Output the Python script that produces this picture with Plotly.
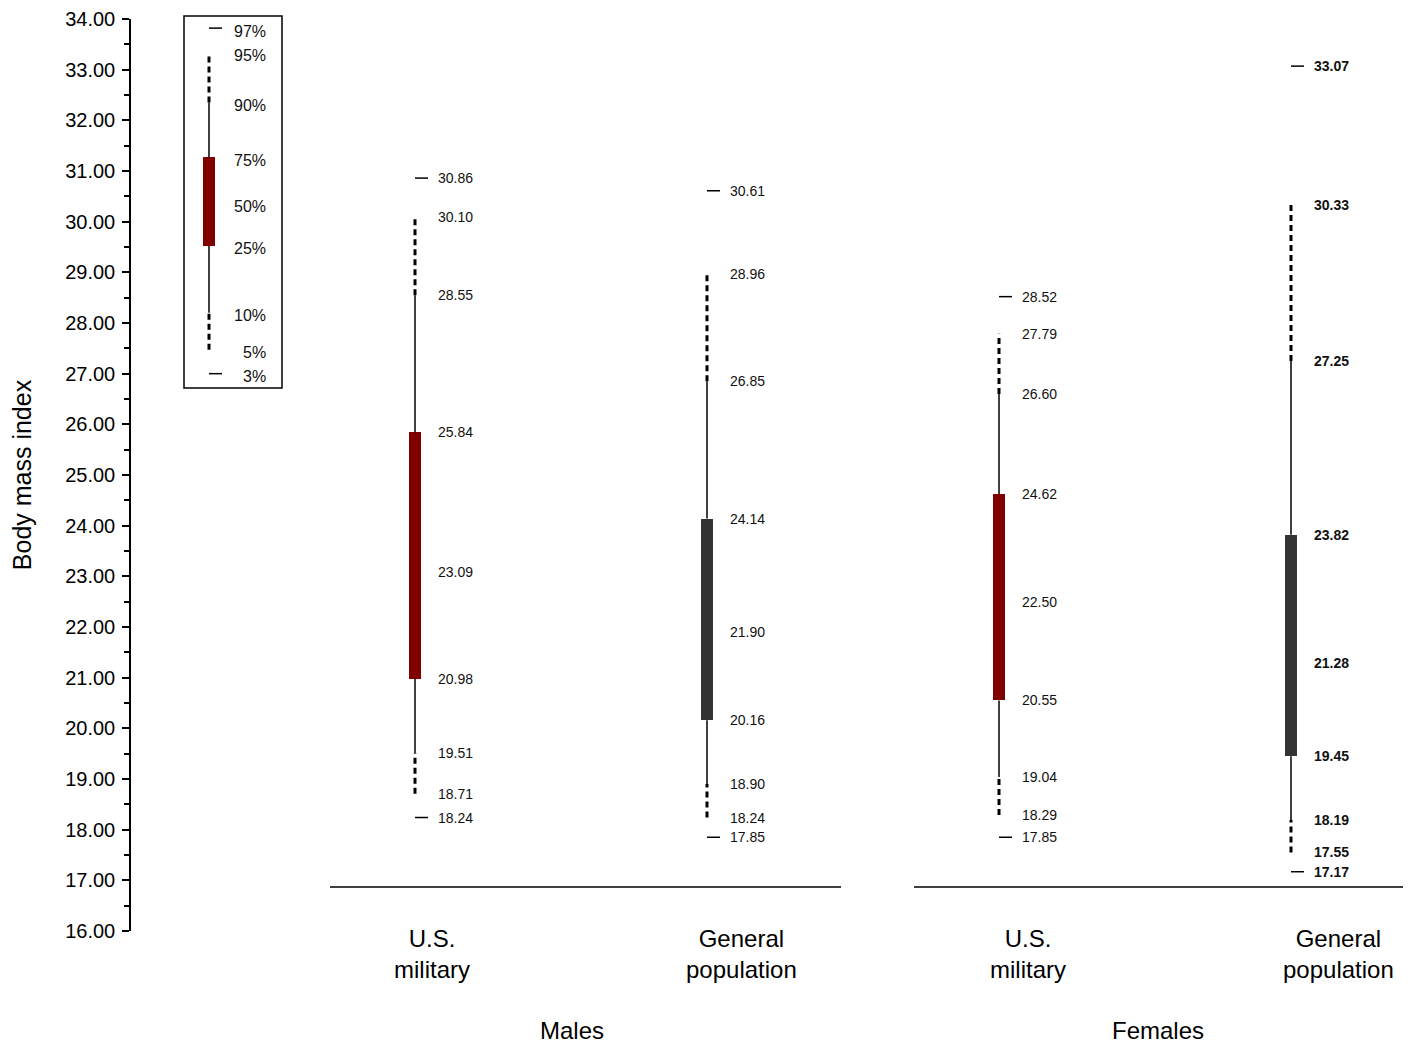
import plotly.graph_objects as go

# ---------------- data ----------------
groups = ["Males", "Males", "Females", "Females"]
categories = ["U.S.<br>military", "General<br>population", "U.S.<br>military", "General<br>population"]
percentiles = [3, 5, 10, 25, 50, 75, 90, 95, 97]
male_military = [18.24, 18.71, 19.51, 20.98, 23.09, 25.84, 28.55, 30.10, 30.86]
male_general = [17.85, 18.24, 18.90, 20.16, 21.90, 24.14, 26.85, 28.96, 30.61]
female_military = [17.85, 18.29, 19.04, 20.55, 22.50, 24.62, 26.60, 27.79, 28.52]
female_general = [17.17, 17.55, 18.19, 19.45, 21.28, 23.82, 27.25, 30.33, 33.07]
series = [male_military, male_general, female_military, female_general]
box_colors = ["#800000", "#333333", "#800000", "#333333"]
bold_labels = [False, False, False, True]

# legend key (illustrative percentile box)
legend_values = [27.00, 27.47, 28.20, 29.52, 30.35, 31.27, 32.35, 33.33, 33.82]
legend_labels = ["3%", "5%", "10%", "25%", "50%", "75%", "90%", "95%", "97%"]

y_ticks = list(range(16, 35))

# ---------------- layout helpers ----------------
px = 1 / 292.0            # one pixel in x data units
box_w = 12 * px
dash_len = 13 * px
label_off = 21 * px
fig = go.Figure()


def draw_box(xc, v, color, with_labels, bold):
    p3, p5, p10, p25, p50, p75, p90, p95, p97 = v
    fig.add_trace(go.Bar(x=[xc], y=[p75 - p25], base=[p25], width=[box_w],
                         marker=dict(color=color, line=dict(width=0)),
                         showlegend=False, hoverinfo="skip"))
    for a, b in [(p75, p90), (p10, p25)]:
        fig.add_trace(go.Scatter(x=[xc, xc], y=[a, b], mode="lines",
                                 line=dict(color="black", width=1.5),
                                 showlegend=False, hoverinfo="skip"))
    for a, b in [(p90, p95), (p5, p10)]:
        fig.add_trace(go.Scatter(x=[xc, xc], y=[a, b], mode="lines",
                                 line=dict(color="black", width=3, dash="6px,4px"),
                                 showlegend=False, hoverinfo="skip"))
    for a in [p3, p97]:
        fig.add_trace(go.Scatter(x=[xc, xc + dash_len], y=[a, a], mode="lines",
                                 line=dict(color="black", width=1.5),
                                 showlegend=False, hoverinfo="skip"))
    if with_labels:
        for val in v:
            txt = f"{val:.2f}"
            if bold:
                txt = f"<b>{txt}</b>"
            fig.add_annotation(x=xc + label_off, y=val, text=txt, showarrow=False,
                               xanchor="left", yanchor="middle",
                               font=dict(size=14, color="#111"))


for i, v in enumerate(series):
    draw_box(i, v, box_colors[i], True, bold_labels[i])

# legend key
lx = (209 - 415) * px
draw_box(lx, legend_values, "#800000", False, False)
for val, lab in zip(legend_values, legend_labels):
    fig.add_annotation(x=(268 - 415) * px, y=val, text=lab, showarrow=False,
                       xanchor="right", yanchor="middle", yshift=-3,
                       font=dict(size=16, color="#111"))
fig.add_shape(type="rect", xref="x", yref="paper",
              x0=(184 - 415) * px, x1=(282 - 415) * px,
              y0=(931 - 388) / 912, y1=(931 - 16) / 912,
              line=dict(color="black", width=1.5))

# baselines under groups
base_y = (931 - 887) / 912
fig.add_shape(type="line", xref="x", yref="paper", x0=(330 - 415) * px, x1=(841 - 415) * px,
              y0=base_y, y1=base_y, line=dict(color="black", width=1.5))
fig.add_shape(type="line", xref="x", yref="paper", x0=(914 - 415) * px, x1=(1405 - 415) * px,
              y0=base_y, y1=base_y, line=dict(color="black", width=1.5))

# category labels
cat_x = [(432 - 415) * px, (741 - 415) * px, (1028 - 415) * px, (1338 - 415) * px]
for cx, cat in zip(cat_x, categories):
    fig.add_annotation(x=cx, y=(931 - 953.5) / 912, xref="x", yref="paper", text=cat,
                       showarrow=False, xanchor="center", yanchor="middle",
                       font=dict(size=24, color="black"))
group_x = {"Males": (572 - 415) * px, "Females": (1158 - 415) * px}
for g, gx in group_x.items():
    fig.add_annotation(x=gx, y=(931 - 1030) / 912, xref="x", yref="paper", text=g,
                       showarrow=False, xanchor="center", yanchor="middle",
                       font=dict(size=24, color="black"))

fig.update_layout(
    width=1411, height=1042,
    margin=dict(l=123, r=13, t=11, b=119),
    paper_bgcolor="white", plot_bgcolor="white",
    font=dict(family="Liberation Sans, Arial, sans-serif", color="black"),
    showlegend=False,
    bargap=0,
    xaxis=dict(range=[(131 - 415) * px, (1406 - 415) * px], visible=False, fixedrange=True,
               automargin=False),
    yaxis=dict(range=[16, 34], tickvals=y_ticks, tickformat=".2f", automargin=False,
               showline=True, linecolor="black", linewidth=1.5,
               ticks="outside", ticklen=7, tickwidth=1.5, tickcolor="black",
               minor=dict(dtick=0.5, ticklen=5, tickwidth=1.5, tickcolor="black", ticks="outside"),
               showgrid=False, zeroline=False, ticklabelstandoff=3,
               tickfont=dict(size=20, color="black"),
               title=dict(text="Body mass index", font=dict(size=25, color="black"), standoff=30)),
)

fig.write_html("out.html")
